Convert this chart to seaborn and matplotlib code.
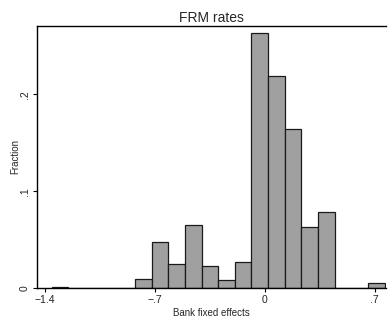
import numpy as np
import pandas as pd
import matplotlib
matplotlib.use("Agg")
import matplotlib.pyplot as plt
import seaborn as sns

# Histogram: 20 equal bins from min to max of bank fixed effects
bin_min = -1.358
bin_max = 0.765
n_bins = 20
fractions = [0.0015, 0, 0, 0, 0, 0.0097, 0.0476, 0.0248, 0.0648, 0.0228,
             0.0083, 0.0266, 0.2630, 0.2186, 0.1644, 0.0628, 0.0786, 0, 0, 0.0056]
xtick_vals = [-1.4, -0.7, 0, 0.7]
xtick_labels = ["\u22121.4", "\u2212.7", "0", ".7"]
ytick_vals = [0, 0.1, 0.2]
ytick_labels = ["0", ".1", ".2"]

edges = np.linspace(bin_min, bin_max, n_bins + 1)
centers = (edges[:-1] + edges[1:]) / 2
df = pd.DataFrame({"effect": centers, "fraction": fractions})

sns.set_style("white")
plt.rcParams['font.family'] = ['Liberation Sans', 'DejaVu Sans']

fig = plt.figure(figsize=(3.88, 3.2), dpi=100)
ax = fig.add_axes([37/388, 1-288/320, (386-37)/388, (288-26)/320])

sns.histplot(data=df, x="effect", weights="fraction", bins=list(edges), ax=ax,
             color="#a0a0a0", edgecolor="#1a1a1a", linewidth=0.9, alpha=1)

ax.set_xlim(-1.451, 0.773)
ax.set_ylim(0, 0.2706)
ax.set_xticks(xtick_vals)
ax.set_xticklabels(xtick_labels, fontsize=7.5)
ax.set_yticks(ytick_vals)
ax.set_yticklabels(ytick_labels, fontsize=7.5, rotation=90, va="center")
ax.tick_params(axis="both", direction="out", length=3, width=0.8, color="black",
               labelcolor="#222222", pad=2, left=True, bottom=True)
ax.set_xlabel("Bank fixed effects", fontsize=7, labelpad=2)
ax.set_ylabel("Fraction", fontsize=7, labelpad=0)
ax.set_title("FRM rates", fontsize=10, pad=3)

for s in ["left", "bottom", "top"]:
    ax.spines[s].set_visible(True)
    ax.spines[s].set_color("black")
    ax.spines[s].set_linewidth(1.0)
ax.spines["right"].set_visible(False)

fig.savefig("out.png", dpi=100)
